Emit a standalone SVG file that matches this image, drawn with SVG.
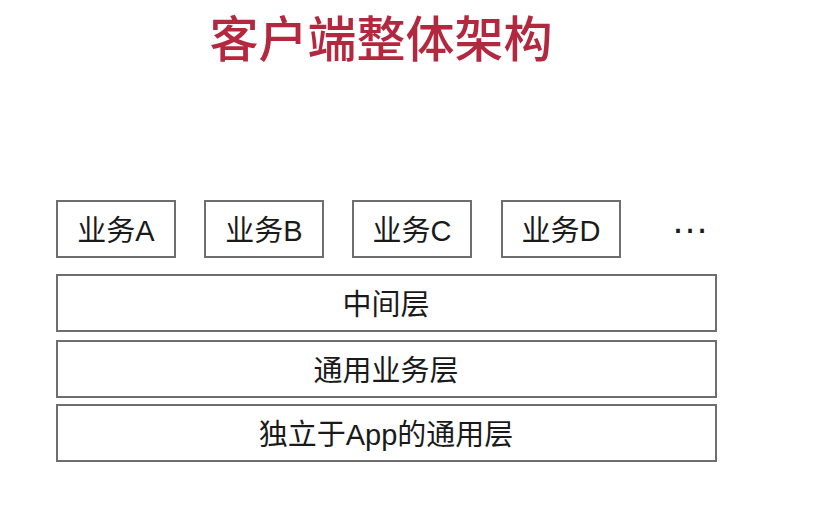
<svg xmlns="http://www.w3.org/2000/svg" width="824" height="528" viewBox="0 0 824 528">
<style>
.box{fill:#ffffff;stroke:#6e6e6e;stroke-width:2}
.lbl{font-family:"Liberation Sans","Noto Sans CJK SC",sans-serif;font-size:29px;fill:#1a1a1a;text-anchor:middle;dominant-baseline:central}
.title{font-family:"Noto Sans CJK SC",sans-serif;font-size:49px;font-weight:500;fill:#b3283e;text-anchor:middle}
.dots{font-family:"Liberation Sans",sans-serif;font-size:38px;fill:#1a1a1a;text-anchor:middle}
</style>
<rect width="824" height="528" fill="#ffffff"/>
<text class="title" x="381" y="57">客户端整体架构</text>
<g id="bizA"><rect class="box" x="57" y="201" width="118" height="56"/><text class="lbl" x="116" y="231">业务A</text></g>
<g id="bizB"><rect class="box" x="205" y="201" width="118" height="56"/><text class="lbl" x="264" y="231">业务B</text></g>
<g id="bizC"><rect class="box" x="353" y="201" width="118" height="56"/><text class="lbl" x="412" y="231">业务C</text></g>
<g id="bizD"><rect class="box" x="502" y="201" width="118" height="56"/><text class="lbl" x="561" y="231">业务D</text></g>
<g id="more"><text class="dots" x="690" y="233">…</text></g>
<g id="middle"><rect class="box" x="57" y="275" width="659" height="56"/><text class="lbl" x="386" y="305">中间层</text></g>
<g id="common"><rect class="box" x="57" y="341" width="659" height="56"/><text class="lbl" x="386" y="371">通用业务层</text></g>
<g id="base"><rect class="box" x="57" y="405" width="659" height="56"/><text class="lbl" x="386" y="435">独立于App的通用层</text></g>
<g id="connectors"/>
</svg>
